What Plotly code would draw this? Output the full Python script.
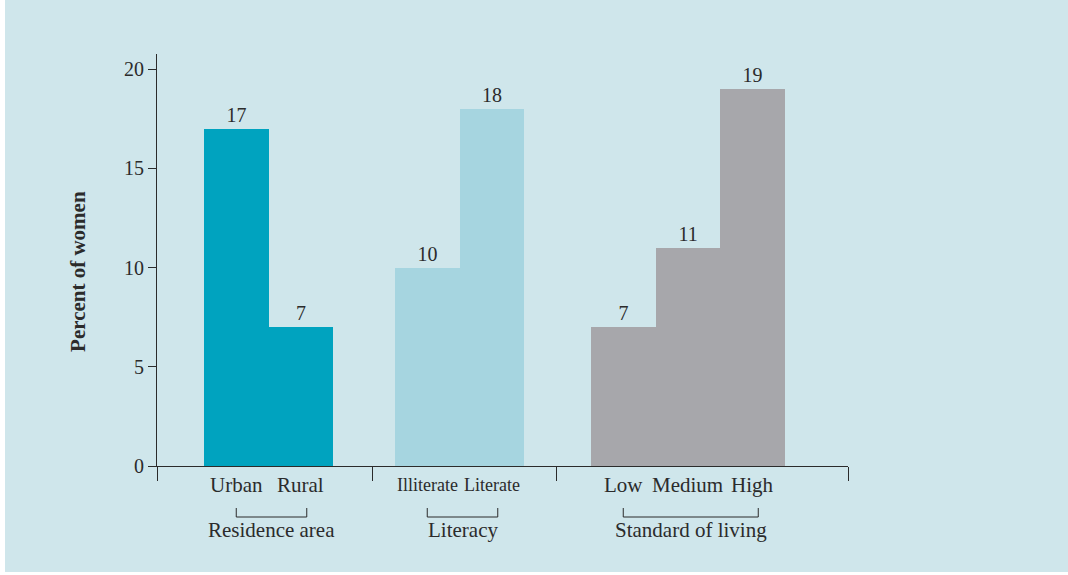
import plotly.graph_objects as go

# data
groups = ["Residence area", "Literacy", "Standard of living"]
categories = [["Urban", "Rural"], ["Illiterate", "Literate"], ["Low", "Medium", "High"]]
values = [[17, 7], [10, 18], [7, 11, 19]]
y_ticks = [0, 5, 10, 15, 20]

colors = ["#00a3bf", "#a6d5e0", "#a7a7ab"]
BG = "#cfe6eb"
INK = "#2b2b2b"
FONT = "Liberation Serif, Times New Roman, serif"

# layout in x-axis units (pixels from the y axis)
BAR_W = 64.5
group_start = [47, 238, 434]
label_size = [21, 18, 21]   # literacy labels are long, keep them from touching
separators = [0, 215, 399, 691]

fig = go.Figure()
shapes = []
annotations = []

for g, name in enumerate(groups):
    xs = [group_start[g] + BAR_W * (i + 0.5) for i in range(len(categories[g]))]
    fig.add_trace(go.Bar(
        x=xs, y=values[g], width=BAR_W,
        marker=dict(color=colors[g], line=dict(width=0)),
        text=[str(v) for v in values[g]], textposition="outside",
        textfont=dict(family=FONT, size=20, color=INK),
        cliponaxis=False, showlegend=False, name=name,
    ))
    for x, lab in zip(xs, categories[g]):
        annotations.append(dict(x=x, y=0, xref="x", yref="paper", text=lab,
                                showarrow=False, yanchor="middle", yshift=-19,
                                font=dict(family=FONT, size=label_size[g], color=INK)))
    x0, x1 = xs[0], xs[-1] + 6
    shapes.append(dict(type="path", xref="x", yref="paper", ysizemode="pixel", yanchor=0,
                       path=f"M {x0},-42 L {x0},-51 L {x1},-51 L {x1},-42",
                       line=dict(color=INK, width=1)))
    annotations.append(dict(x=(x0 + x1) / 2, y=0, xref="x", yref="paper", text=name,
                            showarrow=False, yanchor="middle", yshift=-64,
                            font=dict(family=FONT, size=21, color=INK)))

annotations.append(dict(x=-93 / 691, y=0.471, xref="paper", yref="paper",
                        text="<b>Percent of women</b>", textangle=-90, showarrow=False,
                        font=dict(family=FONT, size=21, color=INK)))

# white frame strips like the scanned page
shapes.append(dict(type="rect", xref="paper", yref="paper", x0=-157 / 691, x1=-152 / 691,
                   y0=-109 / 412, y1=1 + 54 / 412, fillcolor="white", line=dict(width=0),
                   layer="below"))
shapes.append(dict(type="rect", xref="paper", yref="paper", x0=-157 / 691, x1=1 + 220 / 691,
                   y0=-109 / 412, y1=-106 / 412, fillcolor="white", line=dict(width=0),
                   layer="below"))

fig.update_layout(
    width=1068, height=575,
    margin=dict(l=157, r=220, t=54, b=109),
    paper_bgcolor=BG, plot_bgcolor=BG,
    font=dict(family=FONT, size=20, color=INK),
    bargap=0,
    shapes=shapes, annotations=annotations,
    xaxis=dict(range=[0, 691], tickvals=separators, showticklabels=False,
               ticks="outside", ticklen=14, tickcolor=INK, showline=True,
               linecolor=INK, linewidth=1, showgrid=False, zeroline=False),
    yaxis=dict(range=[0, 20.756], tickvals=y_ticks, ticks="outside", ticklen=8,
               tickcolor=INK, showline=True, linecolor=INK, linewidth=1,
               showgrid=False, zeroline=False,
               tickfont=dict(family=FONT, size=20, color=INK)),
)

fig.write_html("out.html", config={"displayModeBar": False},
               post_script="document.body.style.margin = '0';")
